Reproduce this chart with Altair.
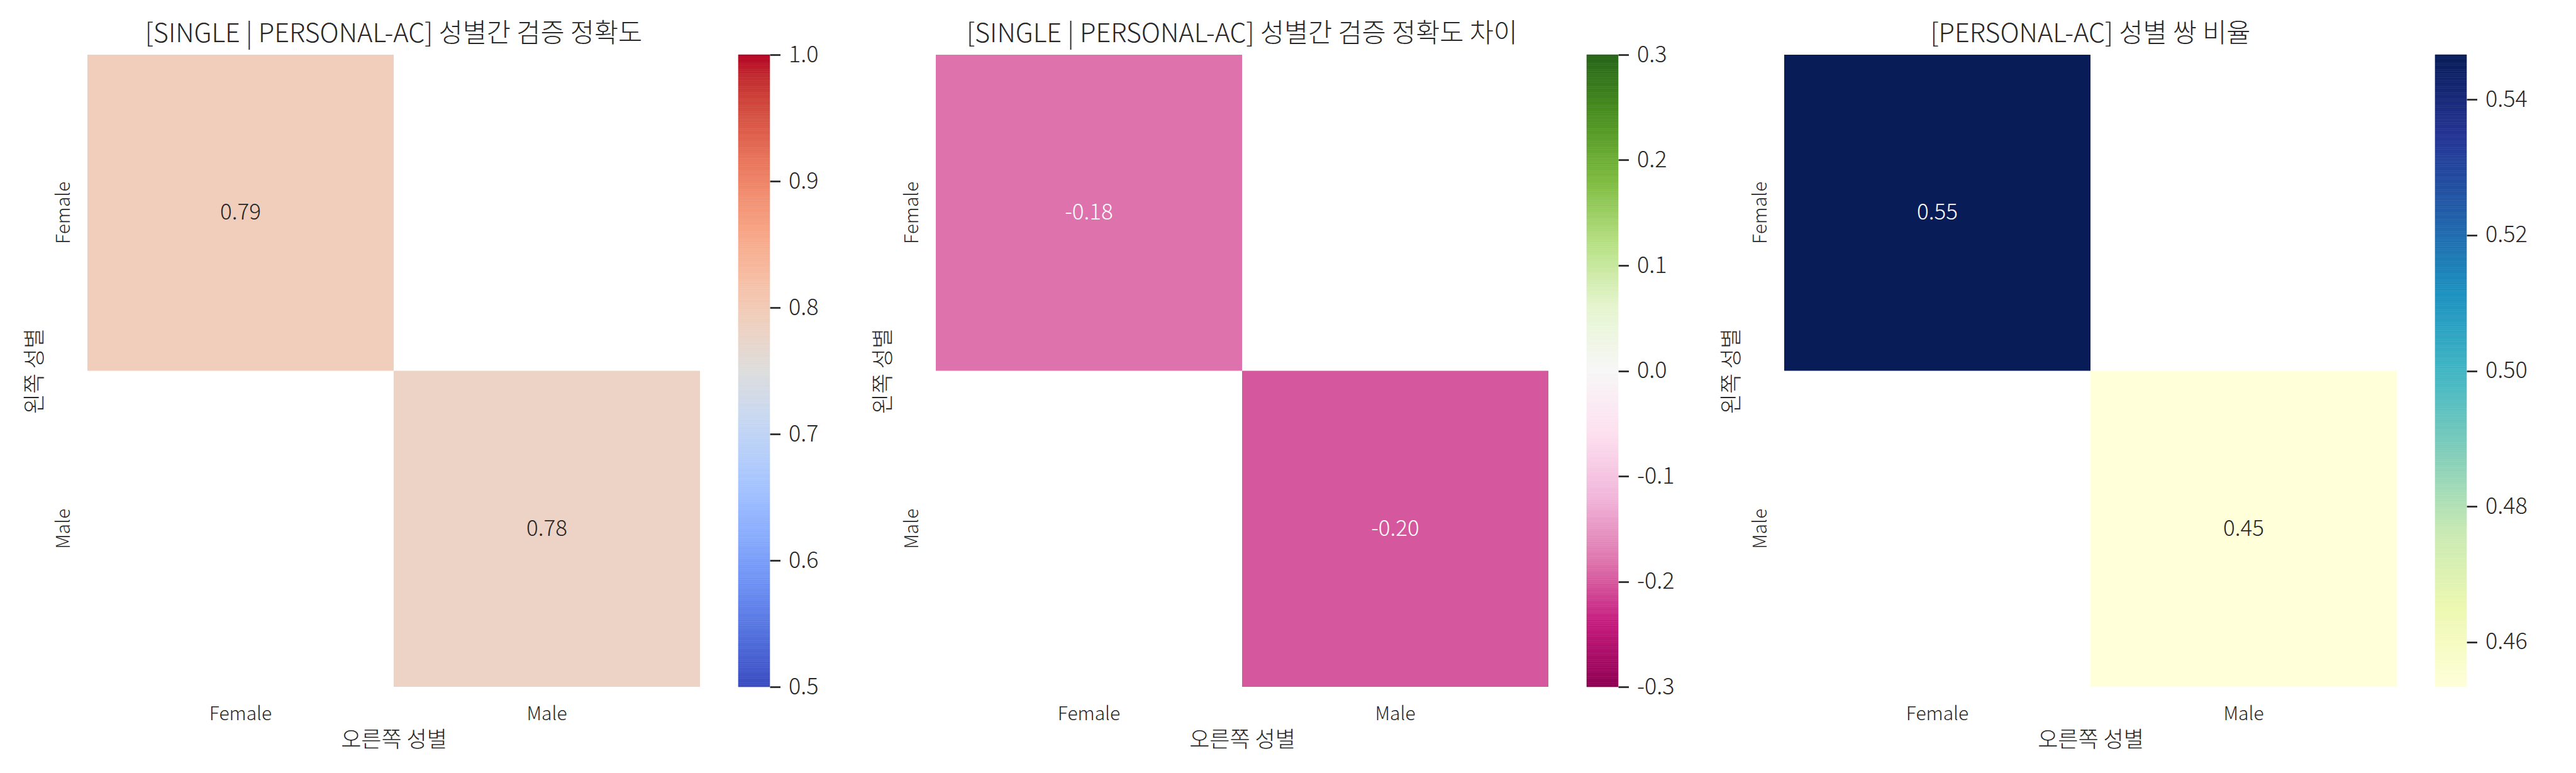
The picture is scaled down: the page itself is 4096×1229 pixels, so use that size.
import altair as alt
import numpy as np
import pandas as pd

# ---------------- data ----------------
genders = ["Female", "Male"]
# only the diagonal cells (same left/right gender) hold values; the rest are empty
cell_left = ["Female", "Male"]
cell_right = ["Female", "Male"]
acc_values = [0.7935, 0.781]        # 성별간 검증 정확도
diff_values = [-0.183, -0.201]      # 성별간 검증 정확도 차이
ratio_values = [0.5466, 0.4534]     # 성별 쌍 비율

titles = [
    "[SINGLE | PERSONAL-AC] 성별간 검증 정확도",
    "[SINGLE | PERSONAL-AC] 성별간 검증 정확도 차이",
    "[PERSONAL-AC] 성별 쌍 비율",
]
x_title = "오른쪽 성별"
y_title = "왼쪽 성별"

acc_ticks = [0.5, 0.6, 0.7, 0.8, 0.9, 1.0]
diff_ticks = [-0.3, -0.2, -0.1, 0.0, 0.1, 0.2, 0.3]
ratio_ticks = [0.46, 0.48, 0.50, 0.52, 0.54]

# colormaps (matplotlib coolwarm / PiYG / YlGnBu stops)
coolwarm = ["#3b4cc0", "#445acc", "#4d68d7", "#5775e1", "#6282ea", "#6c8ef1", "#779af7",
            "#82a5fb", "#8db0fe", "#98b9ff", "#a3c2ff", "#aec9fd", "#b8d0f9", "#c2d5f4",
            "#ccd9ee", "#d5dbe6", "#dddddd", "#e5d8d1", "#ecd3c5", "#f1ccb8", "#f5c4ad",
            "#f7bba0", "#f7b194", "#f7a687", "#f49a7b", "#f18d6f", "#ec7f63", "#e57058",
            "#de604d", "#d55042", "#cb3e38", "#c0282f", "#b40426"]
piyg = ["#8e0152", "#c51b7d", "#de77ae", "#f1b6da", "#fde0ef", "#f7f7f7",
        "#e6f5d0", "#b8e186", "#7fbc41", "#4d9221", "#276419"]
ylgnbu = ["#ffffd9", "#edf8b1", "#c7e9b4", "#7fcdbb", "#41b6c4", "#1d91c0",
          "#225ea8", "#253494", "#081d58"]

# ---------------- style ----------------
FONT = "Noto Sans CJK KR"
TXT = "#262626"
W, H = 974, 1005
CB_W = 50
GAP_CB = 60.5
GAP_PANEL = 264
HYPHEN = "replace(datum.label, '\u2212', '-')"

def cmap_scale(vmin, vmax, colors):
    dom = list(np.linspace(vmin, vmax, len(colors)))
    return alt.Scale(domain=dom, range=colors, interpolate="rgb", clamp=True)

def heatmap(values, title, scale, text_color):
    df = pd.DataFrame({"left": cell_left, "right": cell_right, "value": values})
    base = alt.Chart(df).encode(
        x=alt.X("right:N", sort=genders,
                scale=alt.Scale(domain=genders, paddingInner=0, paddingOuter=0),
                axis=alt.Axis(title=x_title, labelAngle=0, labelBaseline="alphabetic",
                              labelPadding=52, titleY=84, titleBaseline="middle")),
        y=alt.Y("left:N", sort=genders,
                scale=alt.Scale(domain=genders, paddingInner=0, paddingOuter=0),
                axis=alt.Axis(title=y_title, labelAngle=-90, labelAlign="center",
                              labelBaseline="alphabetic", labelPadding=29,
                              titleX=-84, titleY=H / 2, titleAngle=270,
                              titleAlign="center", titleBaseline="middle")),
    )
    rect = base.mark_rect().encode(color=alt.Color("value:Q", scale=scale, legend=None))
    text = base.transform_calculate(
        label="replace(format(datum.value, '.2f'), '\u2212', '-')"
    ).mark_text(font=FONT, fontSize=35, fontWeight=300).encode(
        text="label:N", color=text_color)
    return (rect + text).properties(
        width=W, height=H,
        title=alt.Title(title, font=FONT, fontSize=41.5, fontWeight=300, color=TXT,
                        baseline="alphabetic", offset=-21, anchor="middle"))

def colorbar(vmin, vmax, scale, ticks, fmt):
    edges = np.linspace(vmin, vmax, 301)
    df = pd.DataFrame({"lo": edges[:-1], "hi": edges[1:],
                       "mid": (edges[:-1] + edges[1:]) / 2})
    return alt.Chart(df).mark_rect(strokeWidth=0.6).encode(
        y=alt.Y("lo:Q", scale=alt.Scale(domain=[vmin, vmax], nice=False, zero=False),
                axis=alt.Axis(orient="right", values=ticks, format=fmt, title=None,
                              labelExpr=HYPHEN,
                              grid=False, domain=False, ticks=True, tickSize=16.5,
                              tickWidth=2.7, tickColor=TXT, labelPadding=13,
                              labelFontSize=36, labelBaseline="middle")),
        y2="hi:Q",
        x=alt.value(0), x2=alt.value(CB_W),
        color=alt.Color("mid:Q", scale=scale, legend=None),
        stroke=alt.Stroke("mid:Q", scale=scale, legend=None),
    ).properties(width=CB_W, height=H)

def spacer(w):
    return alt.Chart(pd.DataFrame({"a": [0]})).mark_point(opacity=0).encode(
        x=alt.value(0), y=alt.value(0)).properties(width=w, height=H)

acc_scale = cmap_scale(0.5, 1.0, coolwarm)
diff_scale = cmap_scale(-0.3, 0.3, piyg)
rmin, rmax = min(ratio_values), max(ratio_values)
ratio_scale = cmap_scale(rmin, rmax, ylgnbu)

h1 = heatmap(acc_values, titles[0], acc_scale, alt.value(TXT))
h2 = heatmap(diff_values, titles[1], diff_scale, alt.value("white"))
h3 = heatmap(ratio_values, titles[2], ratio_scale,
             alt.condition("datum.value > 0.5", alt.value("white"), alt.value(TXT)))

c1 = colorbar(0.5, 1.0, acc_scale, acc_ticks, ".1f")
c2 = colorbar(-0.3, 0.3, diff_scale, diff_ticks, ".1f")
c3 = colorbar(rmin, rmax, ratio_scale, ratio_ticks, ".2f")

chart = alt.hconcat(
    h1, spacer(GAP_CB), c1, spacer(GAP_PANEL),
    h2, spacer(GAP_CB), c2, spacer(GAP_PANEL),
    h3, spacer(GAP_CB), c3,
    spacing=0, bounds="flush",
).resolve_scale(
    color="independent", stroke="independent"
).properties(
    padding={"left": 30, "top": 25, "right": 5, "bottom": 5},
    background="white",
).configure_view(stroke=None).configure_axis(
    labelFont=FONT, labelFontSize=30, labelColor=TXT, labelFontWeight=300,
    titleFont=FONT, titleFontSize=35, titleColor=TXT, titleFontWeight=300,
    ticks=False, domain=False, grid=False,
)

chart.save("out.html", embed_options={"renderer": "svg", "actions": False})
